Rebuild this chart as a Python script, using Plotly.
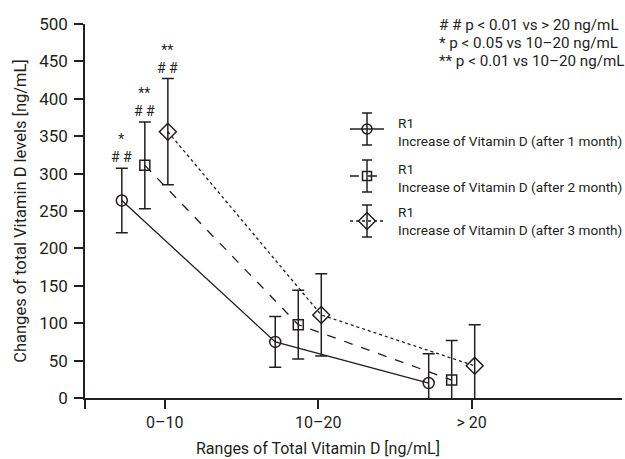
import plotly.graph_objects as go

categories = ["0\u201310", "10\u201320", "> 20"]
series_names = [
    "R1<br>Increase of Vitamin D (after 1 month)",
    "R1<br>Increase of Vitamin D (after 2 month)",
    "R1<br>Increase of Vitamin D (after 3 month)",
]
means_1m = [264, 75, 20]
err_1m = [43, 34, 39]
means_2m = [311, 98, 24]
err_2m = [58, 46, 53]
means_3m = [356, 111, 43]
err_3m = [71, 55, 55]
sig_labels_1m = ["*<br># #", "", ""]
sig_labels_2m = ["**<br># #", "", ""]
sig_labels_3m = ["**<br># #", "", ""]
footnotes = [
    "# # p &lt; 0.01 vs &gt; 20 ng/mL",
    "* p &lt; 0.05 vs 10\u201320 ng/mL",
    "** p &lt; 0.01 vs 10\u201320 ng/mL",
]

INK = "#231f20"
FONT = "Roboto, sans-serif"
offsets = [-0.28, -0.13, 0.02]
symbols = ["circle-open", "square-open", "diamond-open"]
msizes = [11, 10, 13]
leg_msizes = [10, 9, 13]
dashes = ["solid", "dash", "dot"]
all_means = [means_1m, means_2m, means_3m]
all_errs = [err_1m, err_2m, err_3m]
all_sigs = [sig_labels_1m, sig_labels_2m, sig_labels_3m]

W, H = 625, 459
ml, mr, mt, mb = 85, 3, 24, 61
pw, ph = W - ml - mr, H - mt - mb

# legend layout (pixel positions of the hand-drawn key)
leg_sym_y = [129, 176, 221]
leg_txt_y = [132, 178, 221]
leg_line_x = [350, 384]
leg_mark_x = 367
leg_txt_x = 396


def px_x(v):
    return (v - ml) / pw


def px_y(v):
    return 1 - (v - mt) / ph


fig = go.Figure()
annotations = []
for k in range(3):
    xs = [i + offsets[k] for i in range(len(categories))]
    fig.add_trace(go.Scatter(
        x=xs, y=all_means[k], name=series_names[k], mode="lines+markers",
        showlegend=False,
        line=dict(color=INK, width=1.3, dash=dashes[k]),
        marker=dict(symbol=symbols[k], size=msizes[k], color=INK,
                    line=dict(color=INK, width=1.5)),
        error_y=dict(type="data", array=all_errs[k], visible=True,
                     color=INK, thickness=1.5, width=6),
    ))
    for i, lab in enumerate(all_sigs[k]):
        if lab:
            annotations.append(dict(
                x=xs[i], y=all_means[k][i] + all_errs[k][i], xref="x", yref="y",
                text=lab, showarrow=False, yanchor="bottom", yshift=1,
                font=dict(size=14, color=INK, family=FONT)))

    # key sample (drawn on a pixel-space overlay axis)
    fig.add_trace(go.Scatter(
        x=leg_line_x, y=[leg_sym_y[k]] * 2, xaxis="x2", yaxis="y2", mode="lines",
        showlegend=False, hoverinfo="skip",
        line=dict(color=INK, width=1.3, dash=dashes[k])))
    fig.add_trace(go.Scatter(
        x=[leg_mark_x], y=[leg_sym_y[k]], xaxis="x2", yaxis="y2", mode="markers",
        showlegend=False, hoverinfo="skip",
        marker=dict(symbol=symbols[k], size=leg_msizes[k], color=INK,
                    line=dict(color=INK, width=1.5)),
        error_y=dict(type="constant", value=16, visible=True,
                     color=INK, thickness=1.5, width=5)))
    annotations.append(dict(
        x=px_x(leg_txt_x), y=px_y(leg_txt_y[k]), xref="paper", yref="paper",
        text=series_names[k], showarrow=False, xanchor="left", yanchor="middle",
        align="left", font=dict(size=13.6, color=INK, family=FONT)))

for j, t in enumerate(footnotes):
    annotations.append(dict(
        x=px_x(437), y=px_y(25 + j * 18), xref="paper", yref="paper", text=t,
        showarrow=False, xanchor="left", yanchor="middle",
        font=dict(size=15.2, color=INK, family=FONT)))

annotations.append(dict(
    x=1, y=px_y(448), xref="x", yref="paper", text="Ranges of Total Vitamin D [ng/mL]",
    showarrow=False, yanchor="middle", font=dict(size=16, color=INK, family=FONT)))

fig.update_layout(
    width=W, height=H,
    margin=dict(l=ml, r=mr, t=mt, b=mb, autoexpand=False),
    paper_bgcolor="white", plot_bgcolor="white",
    font=dict(family=FONT, color=INK, size=15),
    showlegend=False,
    annotations=annotations,
    xaxis=dict(range=[-0.52, 2.98], tickmode="array",
               tickvals=[-0.52, 0, 1, 2], ticktext=["", categories[0], categories[1], categories[2]],
               showgrid=False, zeroline=False, showline=True, linecolor=INK, linewidth=1.5,
               ticks="outside", ticklen=9, tickwidth=1.5, tickcolor=INK,
               tickfont=dict(size=16, color=INK, family=FONT)),
    yaxis=dict(range=[0, 500], tickmode="array", tickvals=list(range(0, 501, 50)),
               showgrid=False, zeroline=False, showline=True, linecolor=INK, linewidth=1.5,
               ticks="outside", ticklen=9, tickwidth=1.5, tickcolor=INK, ticklabelstandoff=3,
               tickfont=dict(size=17, color=INK, family=FONT),
               title=dict(text="Changes of total Vitamin D levels [ng/mL]",
                          font=dict(size=16.5, color=INK, family=FONT), standoff=8)),
    xaxis2=dict(overlaying="x", range=[ml, W - mr], visible=False, fixedrange=True),
    yaxis2=dict(overlaying="y", range=[H - mb, mt], visible=False, fixedrange=True),
)

fig.write_html("out.html")
